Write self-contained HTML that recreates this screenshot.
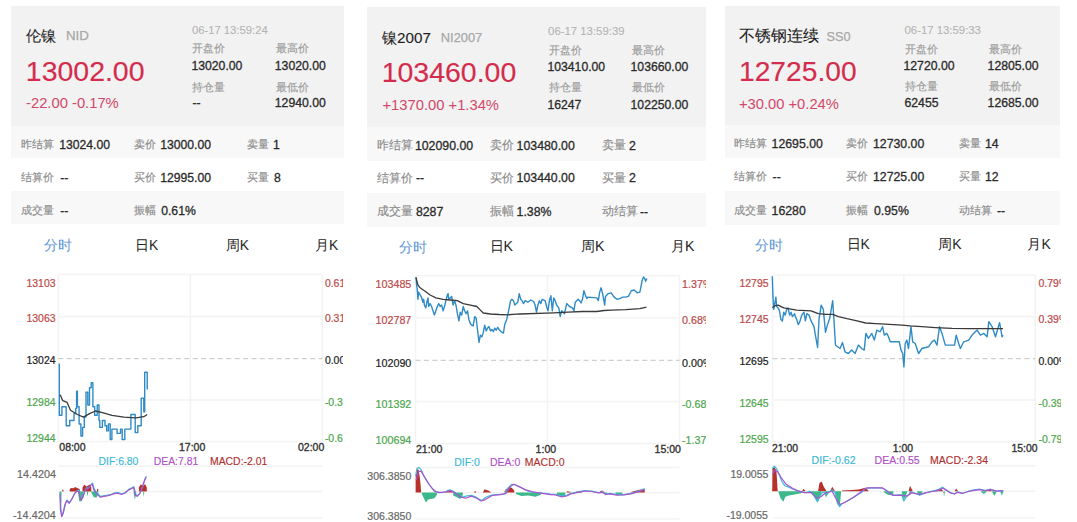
<!DOCTYPE html><html><head><meta charset="utf-8"><style>
html,body{margin:0;padding:0;background:#fff;width:1077px;height:522px;overflow:hidden;position:relative;font-family:"Liberation Sans",sans-serif}
#wrap{position:absolute;left:0;top:0;width:1077px;height:522px}
.b{position:absolute}
.t{position:absolute;line-height:1;white-space:nowrap}
svg{position:absolute;left:0;top:0}
</style></head><body><div id="wrap">
<div class="b" style="left:11px;top:6px;width:332.5px;height:119.5px;background:#f2f2f2"></div>
<div class="b" style="left:11px;top:125.5px;width:333px;height:32.900000000000006px;background:#f8f8f8"></div>
<div class="b" style="left:11px;top:191.2px;width:333px;height:33.30000000000001px;background:#f8f8f8"></div>
<div class="b" style="left:367px;top:7px;width:338.5px;height:119.5px;background:#f2f2f2"></div>
<div class="b" style="left:367px;top:126.5px;width:338.5px;height:34.0px;background:#f8f8f8"></div>
<div class="b" style="left:367px;top:192.5px;width:338.5px;height:34.5px;background:#f8f8f8"></div>
<div class="b" style="left:725px;top:6px;width:334.5px;height:118.8px;background:#f2f2f2"></div>
<div class="b" style="left:725px;top:124.8px;width:334.5px;height:33.2px;background:#f8f8f8"></div>
<div class="b" style="left:725px;top:191.3px;width:334.5px;height:33.29999999999998px;background:#f8f8f8"></div>
<svg width="1077" height="522" viewBox="0 0 1077 522"><line x1="58.3" y1="274.6" x2="322.4" y2="274.6" stroke="#f3f3f3" stroke-width="1.5"/><line x1="58.3" y1="316.4" x2="322.4" y2="316.4" stroke="#f3f3f3" stroke-width="1.5"/><line x1="58.3" y1="399.9" x2="322.4" y2="399.9" stroke="#f3f3f3" stroke-width="1.5"/><line x1="58.3" y1="441.6" x2="322.4" y2="441.6" stroke="#f3f3f3" stroke-width="1.5"/><line x1="58.3" y1="274.6" x2="58.3" y2="441.6" stroke="#f3f3f3" stroke-width="1.5"/><line x1="322.4" y1="274.6" x2="322.4" y2="441.6" stroke="#f3f3f3" stroke-width="1.5"/><line x1="190.35" y1="274.6" x2="190.35" y2="441.6" stroke="#f3f3f3" stroke-width="1.5"/><line x1="58.3" y1="358.7" x2="322.4" y2="358.7" stroke="#c4c4c4" stroke-width="1" stroke-dasharray="5,3.4"/><line x1="58.3" y1="466.3" x2="322.4" y2="466.3" stroke="#f3f3f3" stroke-width="1.5"/><line x1="58.3" y1="491.4" x2="322.4" y2="491.4" stroke="#f3f3f3" stroke-width="1.5"/><line x1="58.3" y1="518" x2="322.4" y2="518" stroke="#f3f3f3" stroke-width="1.5"/><line x1="415.5" y1="275.8" x2="679.5" y2="275.8" stroke="#f3f3f3" stroke-width="1.5"/><line x1="415.5" y1="317.7" x2="679.5" y2="317.7" stroke="#f3f3f3" stroke-width="1.5"/><line x1="415.5" y1="401.5" x2="679.5" y2="401.5" stroke="#f3f3f3" stroke-width="1.5"/><line x1="415.5" y1="443.4" x2="679.5" y2="443.4" stroke="#f3f3f3" stroke-width="1.5"/><line x1="415.5" y1="275.8" x2="415.5" y2="443.4" stroke="#f3f3f3" stroke-width="1.5"/><line x1="679.5" y1="275.8" x2="679.5" y2="443.4" stroke="#f3f3f3" stroke-width="1.5"/><line x1="547.5" y1="275.8" x2="547.5" y2="443.4" stroke="#f3f3f3" stroke-width="1.5"/><line x1="415.5" y1="360.3" x2="679.5" y2="360.3" stroke="#c4c4c4" stroke-width="1" stroke-dasharray="5,3.4"/><line x1="415.5" y1="467.4" x2="679.5" y2="467.4" stroke="#f3f3f3" stroke-width="1.5"/><line x1="415.5" y1="492.8" x2="679.5" y2="492.8" stroke="#f3f3f3" stroke-width="1.5"/><line x1="415.5" y1="519" x2="679.5" y2="519" stroke="#f3f3f3" stroke-width="1.5"/><line x1="772.5" y1="274.9" x2="1035.2" y2="274.9" stroke="#f3f3f3" stroke-width="1.5"/><line x1="772.5" y1="316.6" x2="1035.2" y2="316.6" stroke="#f3f3f3" stroke-width="1.5"/><line x1="772.5" y1="400.1" x2="1035.2" y2="400.1" stroke="#f3f3f3" stroke-width="1.5"/><line x1="772.5" y1="441.8" x2="1035.2" y2="441.8" stroke="#f3f3f3" stroke-width="1.5"/><line x1="772.5" y1="274.9" x2="772.5" y2="441.8" stroke="#f3f3f3" stroke-width="1.5"/><line x1="1035.2" y1="274.9" x2="1035.2" y2="441.8" stroke="#f3f3f3" stroke-width="1.5"/><line x1="903.85" y1="274.9" x2="903.85" y2="441.8" stroke="#f3f3f3" stroke-width="1.5"/><line x1="772.5" y1="358.7" x2="1035.2" y2="358.7" stroke="#c4c4c4" stroke-width="1" stroke-dasharray="5,3.4"/><line x1="772.5" y1="465.8" x2="1035.2" y2="465.8" stroke="#f3f3f3" stroke-width="1.5"/><line x1="772.5" y1="491.2" x2="1035.2" y2="491.2" stroke="#f3f3f3" stroke-width="1.5"/><line x1="772.5" y1="517.8" x2="1035.2" y2="517.8" stroke="#f3f3f3" stroke-width="1.5"/><polyline points="59.3,363.6 59.3,363.6 59.3,415.3 61.9,415.3 61.9,415.3 61.9,415.3 61.9,406.7 66.2,406.7 66.2,406.7 66.2,406.7 66.2,425.7 69.7,425.7 69.7,425.7 69.7,425.7 69.7,420.5 72.2,420.5 72.2,420.5 74.0,420.5 74.0,413.6 75.7,413.6 75.7,408.4 76.6,408.4 76.6,391.2 77.4,391.2 77.4,406.7 79.1,406.7 79.1,424.0 80.9,424.0 80.9,436.0 82.6,436.0 82.6,427.4 84.3,427.4 84.3,417.1 86.0,417.1 86.0,392.1 87.8,392.1 87.8,405.0 89.5,405.0 89.5,387.8 91.2,387.8 91.2,382.6 92.9,382.6 92.9,406.7 94.7,406.7 94.7,415.3 97.2,415.3 97.2,405.0 99.0,405.0 99.0,420.5 99.8,420.5 99.8,427.4 102.4,427.4 102.4,420.5 105.0,420.5 105.0,425.7 106.7,425.7 106.7,430.9 108.4,430.9 108.4,424.0 110.2,424.0 110.2,439.5 111.9,439.5 111.9,429.1 117.1,429.1 117.1,433.4 120.5,433.4 120.5,429.1 122.2,429.1 122.2,439.5 124.8,439.5 124.8,429.1 130.9,429.1 130.9,414.5 134.3,414.5 134.3,414.5 135.2,414.5 135.2,432.6 137.8,432.6 137.8,425.7 141.2,425.7 141.2,398.1 143.8,398.1 143.8,411.9 144.7,411.9 144.7,372.2 147.2,372.2 147.2,389.5" fill="none" stroke="#2f8bc6" stroke-width="1.4" stroke-linejoin="round"/><polyline points="60.2,394.7 62.8,400.7 67.1,402.4 70.5,410.2 77.4,414.5 83.4,417.1 89.5,413.6 95.5,411.0 103.3,412.8 111.9,415.3 124.0,417.1 136.0,417.9 143.8,416.7 147.2,414.5" fill="none" stroke="#3a3a3a" stroke-width="1.3" stroke-linejoin="round"/><polyline points="416.0,277.0 416.5,283.5 417.2,289.2 417.9,299.3 418.6,292.1 420.1,295.0 421.5,297.2 422.9,302.2 423.7,299.3 424.4,305.1 425.8,307.9 427.2,300.7 428.0,297.9 428.7,306.5 430.1,303.6 431.6,306.5 433.0,310.8 434.4,315.1 435.9,310.8 437.3,306.5 438.7,303.6 440.2,306.5 441.6,305.1 443.1,310.8 444.5,306.5 445.9,300.7 447.4,295.0 448.1,293.6 448.8,299.3 450.2,297.9 451.7,296.4 453.1,305.1 454.6,300.7 456.0,305.1 457.4,313.7 458.9,320.9 460.3,312.2 461.7,315.1 463.2,306.5 464.6,310.8 466.1,313.7 467.5,310.8 468.9,319.4 470.4,323.7 471.8,325.2 473.2,325.9 474.7,316.6 476.1,318.0 477.5,329.5 479.0,342.4 480.4,335.2 481.9,336.7 483.3,332.4 484.7,325.2 486.2,330.9 487.6,328.1 489.0,326.6 490.5,330.9 491.9,329.5 493.4,331.6 494.8,328.1 496.2,330.2 497.7,327.3 499.1,329.5 502.0,332.4 503.4,333.1 504.9,323.7 506.3,320.9 507.7,315.1 509.2,307.9 510.6,300.7 512.0,299.3 513.5,300.7 514.9,305.1 516.4,303.6 517.8,302.2 519.2,293.6 520.7,299.3 522.1,300.7 523.5,303.6 525.0,300.7 527.9,302.2 530.7,300.0 533.6,301.5 535.1,305.0 536.5,312.2 537.9,305.0 539.4,300.7 540.8,303.6 542.2,299.3 545.1,300.7 546.6,306.5 548.0,310.8 549.4,300.7 550.9,295.7 552.3,310.8 553.7,297.9 555.2,300.7 556.6,305.0 558.8,307.9 560.2,316.5 561.6,310.8 563.1,312.2 564.5,313.7 566.7,303.6 568.1,305.0 569.5,306.5 572.4,307.9 573.9,310.8 575.3,302.2 578.2,299.3 579.6,300.7 581.0,302.9 582.5,299.3 583.9,290.7 585.3,295.0 586.8,298.6 588.2,297.1 596.8,297.9 598.3,300.7 599.7,292.1 601.1,287.8 602.6,293.6 604.7,305.0 605.5,296.4 608.3,293.6 611.2,292.8 614.1,297.1 617.0,299.3 619.8,298.6 622.7,297.1 625.6,297.1 628.4,296.4 631.3,290.7 634.2,290.0 637.1,292.8 639.9,292.1 642.1,280.6 643.5,277.0 645.0,279.2 645.7,281.3 646.8,278.5" fill="none" stroke="#2f8bc6" stroke-width="1.4" stroke-linejoin="round"/><polyline points="416.0,277.7 417.9,284.9 420.1,287.8 424.4,290.7 430.1,295.0 435.9,297.9 443.1,299.3 450.2,300.0 457.4,300.7 463.2,303.6 470.4,305.1 476.8,306.5 480.4,310.1 483.3,313.0 490.5,314.0 499.1,314.5 507.7,314.8 516.4,314.1 519.2,314.0 553.7,312.9 568.1,312.2 582.5,311.5 596.8,311.5 604.0,310.5 611.2,310.1 625.6,309.6 639.9,308.6 646.4,307.2" fill="none" stroke="#3a3a3a" stroke-width="1.3" stroke-linejoin="round"/><polyline points="772.3,276.3 773.0,297.9 773.7,309.4 774.5,305.1 775.9,297.2 776.6,306.5 778.1,307.9 779.5,310.8 780.9,319.4 782.4,320.9 783.8,312.2 785.2,315.1 786.7,309.4 788.1,307.9 789.6,315.1 791.0,312.2 792.4,316.6 794.6,313.7 795.3,316.6 796.7,319.4 798.2,324.5 799.6,322.3 801.8,315.1 803.9,312.2 805.4,320.9 806.8,313.7 809.0,315.1 811.1,320.9 814.0,326.6 815.4,335.2 817.6,347.5 819.0,319.4 821.2,305.1 823.3,309.4 825.5,332.4 826.9,326.6 829.8,318.0 832.7,300.7 834.1,322.3 835.5,345.3 840.0,348.5 842.5,342.6 845.0,351.8 848.4,353.5 851.7,350.1 855.1,353.5 858.4,345.1 861.7,348.5 864.2,350.1 865.9,333.4 868.4,338.4 871.8,333.4 874.3,340.1 876.8,330.1 880.1,331.8 882.6,326.7 884.3,335.1 886.8,333.4 888.5,336.8 890.2,341.8 899.3,341.8 901.0,350.1 902.7,353.5 903.9,366.9 905.2,343.5 906.9,340.1 908.5,348.5 911.0,326.7 912.7,341.8 915.2,343.5 918.6,353.5 921.9,348.5 928.6,346.8 931.9,341.8 934.4,340.1 937.0,345.1 939.5,326.7 942.0,333.4 945.3,345.1 954.5,345.1 956.2,335.1 958.7,343.5 960.4,348.5 963.7,341.8 968.7,340.1 972.1,335.1 977.1,330.1 980.4,335.1 983.8,333.4 987.1,336.8 988.8,321.7 992.1,326.7 995.5,336.8 999.6,322.6 1002.1,336.8 1003.0,335.1" fill="none" stroke="#2f8bc6" stroke-width="1.4" stroke-linejoin="round"/><polyline points="772.3,307.9 774.5,305.8 778.1,305.1 783.8,307.9 796.7,310.1 811.1,310.8 818.3,313.7 825.5,314.4 832.7,314.4 838.4,316.6 847.0,318.7 857.1,320.9 865.7,323.0 875.8,323.7 885.1,324.2 901.9,325.1 910.2,325.9 921.9,326.7 935.3,327.6 952.0,328.4 968.7,328.7 1003.0,328.7" fill="none" stroke="#3a3a3a" stroke-width="1.3" stroke-linejoin="round"/><polygon points="62.2,491.4 62.2,490.1 62.9,489.2 63.5,490.6 63.5,491.4" fill="#b8302a"/><polygon points="69.7,491.4 69.7,489.2 71.0,487.9 73.6,488.3 75.0,487.0 77.2,487.9 79.8,489.2 79.8,491.4" fill="#b8302a"/><polygon points="82.5,491.4 82.5,487.5 84.2,484.8 86.9,486.6 89.5,484.4 91.3,487.5 91.3,491.4" fill="#b8302a"/><polygon points="97.0,491.4 97.0,489.2 97.6,488.8 98.3,489.2 98.3,491.4" fill="#b8302a"/><polygon points="138.9,491.4 138.9,487.5 140.7,484.4 143.3,485.7 145.1,483.9 146.8,487.5 146.8,491.4" fill="#b8302a"/><polygon points="59.5,491.4 59.5,492.8 60.0,502.5 61.3,502.5 61.5,492.8 61.5,491.4" fill="#3cb88a"/><polygon points="78.0,491.4 78.0,492.8 79.4,501.6 82.0,501.1 83.3,493.6 83.3,491.4" fill="#3cb88a"/><polygon points="86.9,491.4 86.9,492.8 87.6,496.3 88.2,492.8 88.2,491.4" fill="#3cb88a"/><polygon points="91.3,491.4 91.3,492.8 93.9,497.2 96.6,497.6 98.3,493.6 98.3,491.4" fill="#3cb88a"/><polygon points="133.6,491.4 133.6,492.8 134.9,499.8 136.2,493.6 136.2,491.4" fill="#3cb88a"/><polygon points="143.3,491.4 143.3,492.8 143.7,497.2 144.2,492.8 144.2,491.4" fill="#3cb88a"/><polyline points="60.4,492.9 60.9,508.8 62.2,515.9 63.5,512.3 65.3,504.4 67.0,500.0 69.7,502.6 72.3,498.2 75.0,492.9 77.6,490.3 79.4,490.7 81.1,499.1 82.9,497.3 84.7,492.0 86.4,487.6 88.2,488.5 90.8,485.0 92.6,483.2 94.4,489.4 97.0,492.9 100.5,496.5 104.1,495.6 107.6,495.1 111.1,494.3 114.6,492.9 118.2,492.5 121.7,493.8 125.2,492.5 128.8,489.4 134.0,486.8 135.8,494.7 137.6,495.6 140.2,492.9 142.9,485.9 144.6,480.6 146.4,476.2" fill="none" stroke="#40bcd8" stroke-width="1.2" stroke-linejoin="round"/><polyline points="60.0,493.6 60.4,509.5 61.7,516.6 63.1,513.0 64.8,505.1 66.6,500.7 69.2,503.3 71.9,498.9 74.5,493.6 77.2,491.0 78.9,491.4 80.7,499.8 82.5,498.0 84.2,492.8 86.0,488.3 87.7,489.2 90.4,485.7 92.2,483.9 93.9,490.1 96.6,493.6 100.1,497.2 103.6,496.3 107.1,495.8 110.7,495.0 114.2,493.6 117.7,493.2 121.3,494.5 124.8,493.2 128.3,490.1 133.6,487.5 135.4,495.4 137.1,496.3 139.8,493.6 142.4,486.6 144.2,481.3 145.9,476.9" fill="none" stroke="#a855d0" stroke-width="1.2" stroke-linejoin="round"/><polygon points="415.6,492.6 415.6,475.9 417.0,469.0 418.6,469.7 420.0,478.7 421.1,491.2 421.1,492.6" fill="#b8302a"/><polygon points="445.5,492.6 445.5,491.9 446.9,490.6 450.4,489.9 453.2,491.9 453.2,492.6" fill="#b8302a"/><polygon points="474.1,492.6 474.1,491.9 475.2,491.0 476.2,491.9 476.2,492.6" fill="#b8302a"/><polygon points="483.1,492.6 483.1,491.9 484.5,489.2 488.0,490.6 490.8,491.9 490.8,492.6" fill="#b8302a"/><polygon points="504.7,492.6 504.7,491.2 506.1,489.2 508.9,487.1 511.7,487.8 513.8,489.9 514.5,491.9 514.5,492.6" fill="#b8302a"/><polygon points="421.8,492.6 421.8,494.0 423.9,498.2 426.0,502.4 428.1,499.6 430.9,498.9 434.4,498.2 436.5,495.4 437.2,493.3 437.2,492.6" fill="#3cb88a"/><polygon points="453.2,492.6 453.2,495.4 457.4,497.5 460.1,498.9 462.2,496.8 462.9,494.0 462.9,492.6" fill="#3cb88a"/><polygon points="515.8,492.6 515.8,494.0 521.4,496.1 528.4,495.4 535.3,496.8 540.9,494.7 540.9,492.6" fill="#3cb88a"/><polygon points="566.7,492.6 566.7,491.2 568.8,491.5 570.9,491.9 570.9,492.6" fill="#b8302a"/><polygon points="576.5,492.6 576.5,491.5 579.2,491.2 582.0,491.9 582.0,492.6" fill="#b8302a"/><polygon points="600.1,492.6 600.1,491.2 602.2,490.6 604.3,491.9 604.3,492.6" fill="#b8302a"/><polygon points="630.8,492.6 630.8,491.9 636.4,490.6 641.9,489.2 644.7,489.9 644.7,492.6" fill="#b8302a"/><polygon points="557.0,492.6 557.0,494.7 561.1,496.8 565.3,495.4 565.3,492.6" fill="#3cb88a"/><polygon points="604.3,492.6 604.3,494.0 605.7,495.4 607.1,494.0 607.1,492.6" fill="#3cb88a"/><polygon points="615.5,492.6 615.5,494.0 619.6,494.7 622.4,494.0 622.4,492.6" fill="#3cb88a"/><polyline points="415.6,475.9 417.0,468.3 419.1,467.6 421.1,469.7 423.9,475.9 428.1,482.9 432.3,488.5 436.5,491.9 442.0,492.6 446.2,491.5 449.7,489.9 453.2,491.2 457.4,494.7 461.5,497.5 465.7,496.1 471.3,495.4 475.5,496.8 479.6,499.6 482.4,500.3 485.2,497.5 490.8,495.4 496.4,494.7 504.7,494.0 507.5,488.5 511.7,484.3 515.8,485.0 521.4,487.8 528.4,491.2 535.3,492.6 543.7,493.3 549.3,493.8 550.0,494.0 555.6,494.3 561.1,496.1 566.7,495.4 570.9,493.3 577.9,491.9 584.8,490.6 591.8,491.2 598.7,492.6 602.9,491.9 605.7,494.0 609.9,493.3 616.9,494.7 623.8,494.7 630.8,493.3 636.4,491.9 641.9,489.9 644.7,488.5" fill="none" stroke="#40bcd8" stroke-width="1.2" stroke-linejoin="round"/><polyline points="416.3,480.1 418.4,471.7 421.1,471.1 424.6,477.3 429.5,485.0 434.4,491.2 439.2,492.6 446.2,491.9 450.4,490.6 454.6,492.6 460.1,496.8 465.7,498.2 471.3,496.1 476.9,498.2 481.0,501.0 485.2,499.6 492.2,495.4 500.5,494.7 506.1,493.3 510.3,486.4 513.8,484.3 518.6,486.4 525.6,489.9 532.6,491.9 542.3,493.3 549.3,494.3 550.0,494.7 555.6,494.9 561.1,496.8 566.7,496.0 570.9,494.0 577.9,492.4 584.8,491.0 591.8,491.5 598.7,492.9 602.9,492.4 605.7,494.3 609.9,493.8 616.9,495.1 623.8,494.9 630.8,493.8 636.4,492.4 641.9,490.6 644.7,489.2" fill="none" stroke="#a855d0" stroke-width="1.2" stroke-linejoin="round"/><polygon points="772.2,491.2 772.2,491.2 772.5,467.6 774.3,466.9 776.4,470.4 777.7,491.2 777.7,491.2" fill="#b8302a"/><polygon points="802.1,491.2 802.1,491.2 803.5,488.7 805.6,491.2 805.6,491.2" fill="#b8302a"/><polygon points="818.1,491.2 818.1,491.2 819.5,482.9 821.6,481.5 823.7,486.4 826.5,491.2 826.5,491.2" fill="#b8302a"/><polygon points="830.0,491.2 830.0,491.2 832.3,486.8 834.9,491.2 834.9,491.2" fill="#b8302a"/><polygon points="841.8,491.2 841.8,490.6 851.6,489.9 858.5,489.6 865.5,487.8 868.3,490.6 868.3,491.2" fill="#b8302a"/><polygon points="778.4,491.2 778.4,491.9 780.5,498.2 783.3,501.7 785.4,496.8 788.9,495.4 793.1,494.7 797.2,494.0 801.4,493.3 802.8,491.5 802.8,491.2" fill="#3cb88a"/><polygon points="809.8,491.2 809.8,491.9 814.0,496.8 817.4,502.4 820.2,496.8 821.6,491.9 821.6,491.2" fill="#3cb88a"/><polygon points="824.4,491.2 824.4,491.9 825.8,497.5 829.3,491.9 829.3,491.2" fill="#3cb88a"/><polygon points="834.9,491.2 834.9,491.9 836.9,503.8 839.7,507.3 841.1,491.9 841.1,491.2" fill="#3cb88a"/><polygon points="883.6,491.2 883.6,491.9 887.8,494.7 893.3,495.4 893.3,491.2" fill="#3cb88a"/><polygon points="901.7,491.2 901.7,491.9 903.8,500.3 907.3,491.9 907.3,491.2" fill="#3cb88a"/><polygon points="908.6,491.2 908.6,491.2 910.0,485.7 912.8,491.2 912.8,491.2" fill="#b8302a"/><polygon points="932.3,491.2 932.3,491.2 937.9,489.2 940.6,488.2 943.4,491.2 943.4,491.2" fill="#b8302a"/><polygon points="954.6,491.2 954.6,491.2 956.2,488.5 958.1,491.2 958.1,491.2" fill="#b8302a"/><polygon points="986.6,491.2 986.6,491.2 989.4,489.2 992.2,491.2 992.2,491.2" fill="#b8302a"/><polygon points="999.1,491.2 999.1,491.2 1000.5,489.9 1001.9,491.2 1001.9,491.2" fill="#b8302a"/><polygon points="917.0,491.2 917.0,491.9 919.7,496.1 922.5,491.9 922.5,491.2" fill="#3cb88a"/><polygon points="943.4,491.2 943.4,491.9 944.1,496.8 944.8,491.9 944.8,491.2" fill="#3cb88a"/><polygon points="981.0,491.2 981.0,491.9 983.8,494.0 986.6,491.9 986.6,491.2" fill="#3cb88a"/><polygon points="992.2,491.2 992.2,491.9 994.3,496.1 996.4,491.9 996.4,491.2" fill="#3cb88a"/><polygon points="1000.5,491.2 1000.5,491.9 1001.9,495.4 1003.3,491.9 1003.3,491.2" fill="#3cb88a"/><polyline points="772.2,469.0 774.3,466.2 776.4,468.3 779.1,474.5 781.9,481.5 784.7,485.7 788.9,487.1 793.1,489.2 797.2,490.6 801.4,491.9 805.6,492.6 809.8,491.2 814.0,495.4 817.4,501.7 820.2,495.4 823.0,491.9 826.5,494.0 829.3,491.9 832.1,489.9 834.9,492.6 837.6,502.4 839.7,506.6 841.8,503.8 847.4,501.0 854.4,496.8 861.3,492.6 865.5,488.5 871.1,487.8 879.4,487.8 883.6,488.5 887.8,491.9 893.3,495.4 901.7,494.7 903.8,501.0 907.3,495.4 911.5,491.9 910.0,491.9 914.2,492.9 919.7,495.1 925.3,492.9 932.3,491.2 937.9,489.9 942.7,487.1 946.2,489.9 950.4,492.6 954.6,494.0 957.4,491.9 962.9,493.3 968.5,491.2 974.1,489.9 979.6,489.2 985.2,490.6 990.8,489.2 996.4,491.2 1001.9,490.6 1003.3,491.2" fill="none" stroke="#40bcd8" stroke-width="1.2" stroke-linejoin="round"/><polyline points="772.5,474.5 774.3,470.4 777.7,471.7 781.9,478.7 786.1,484.3 791.7,487.8 797.2,490.6 804.2,492.6 811.2,492.6 816.7,498.2 820.9,496.8 825.1,493.3 832.1,491.2 837.6,501.7 840.4,504.5 846.0,501.7 854.4,496.8 862.7,490.6 866.9,487.8 882.2,487.8 886.4,490.6 893.3,495.4 901.7,495.4 907.3,496.1 911.5,492.9 910.0,492.4 914.2,493.3 919.7,494.3 925.3,492.9 932.3,491.5 937.9,490.6 942.7,488.2 946.2,490.1 950.4,492.9 954.6,493.8 957.4,492.4 962.9,493.3 968.5,491.5 974.1,490.3 979.6,489.6 985.2,490.6 990.8,489.6 996.4,491.2 1001.9,490.7 1003.3,491.2" fill="none" stroke="#a855d0" stroke-width="1.2" stroke-linejoin="round"/></svg>
<span class="t" style="left:25.7px;top:27.5px;font-size:15.38px;color:#1e1e1e;-webkit-text-stroke:0.1px #1e1e1e">伦镍</span>
<span class="t" style="left:65.9px;top:29.4px;font-size:13.31px;color:#a8a8a8;-webkit-text-stroke:0.25px #a8a8a8">NID</span>
<span class="t" style="left:25.8px;top:57.1px;font-size:28.48px;color:#d42c4c;-webkit-text-stroke:0.15px #d42c4c">13002.00</span>
<span class="t" style="left:26.0px;top:96.25px;font-size:14.78px;color:#d3486a">-22.00 -0.17%</span>
<span class="t" style="left:191.9px;top:25.25px;font-size:11.28px;color:#b4b4b4;-webkit-text-stroke:0.1px #b4b4b4">06-17 13:59:24</span>
<span class="t" style="left:192.4px;top:43.45px;font-size:11.09px;color:#9c9c9c;-webkit-text-stroke:0.15px #9c9c9c">开盘价</span>
<span class="t" style="left:191.4px;top:59.6px;font-size:12.24px;color:#2a2a2a;-webkit-text-stroke:0.3px #2a2a2a">13020.00</span>
<span class="t" style="left:275.8px;top:43.45px;font-size:11.09px;color:#9c9c9c;-webkit-text-stroke:0.15px #9c9c9c">最高价</span>
<span class="t" style="left:274.8px;top:59.6px;font-size:12.24px;color:#2a2a2a;-webkit-text-stroke:0.3px #2a2a2a">13020.00</span>
<span class="t" style="left:192.4px;top:81.65px;font-size:11.09px;color:#9c9c9c;-webkit-text-stroke:0.15px #9c9c9c">持仓量</span>
<span class="t" style="left:192.4px;top:97.2px;font-size:12.24px;color:#2a2a2a;-webkit-text-stroke:0.3px #2a2a2a">--</span>
<span class="t" style="left:275.8px;top:81.65px;font-size:11.09px;color:#9c9c9c;-webkit-text-stroke:0.15px #9c9c9c">最低价</span>
<span class="t" style="left:274.8px;top:97.2px;font-size:12.24px;color:#2a2a2a;-webkit-text-stroke:0.3px #2a2a2a">12940.00</span>
<span class="t" style="left:21.0px;top:138.55px;font-size:11.48px;color:#8c8c8c;-webkit-text-stroke:0.15px #8c8c8c">昨结算</span>
<span class="t" style="left:59.2px;top:138.55px;font-size:12.19px;color:#2a2a2a;-webkit-text-stroke:0.3px #2a2a2a">13024.00</span>
<span class="t" style="left:133.8px;top:138.55px;font-size:11.48px;color:#8c8c8c;-webkit-text-stroke:0.15px #8c8c8c">卖价</span>
<span class="t" style="left:160.2px;top:138.55px;font-size:12.19px;color:#2a2a2a;-webkit-text-stroke:0.3px #2a2a2a">13000.00</span>
<span class="t" style="left:246.5px;top:138.55px;font-size:11.48px;color:#8c8c8c;-webkit-text-stroke:0.15px #8c8c8c">卖量</span>
<span class="t" style="left:273.0px;top:138.55px;font-size:12.19px;color:#2a2a2a;-webkit-text-stroke:0.3px #2a2a2a">1</span>
<span class="t" style="left:21.0px;top:171.95px;font-size:11.48px;color:#8c8c8c;-webkit-text-stroke:0.15px #8c8c8c">结算价</span>
<span class="t" style="left:60.2px;top:171.95px;font-size:12.19px;color:#2a2a2a;-webkit-text-stroke:0.3px #2a2a2a">--</span>
<span class="t" style="left:133.8px;top:171.95px;font-size:11.48px;color:#8c8c8c;-webkit-text-stroke:0.15px #8c8c8c">买价</span>
<span class="t" style="left:160.2px;top:171.95px;font-size:12.19px;color:#2a2a2a;-webkit-text-stroke:0.3px #2a2a2a">12995.00</span>
<span class="t" style="left:246.5px;top:171.95px;font-size:11.48px;color:#8c8c8c;-webkit-text-stroke:0.15px #8c8c8c">买量</span>
<span class="t" style="left:274.0px;top:171.95px;font-size:12.19px;color:#2a2a2a;-webkit-text-stroke:0.3px #2a2a2a">8</span>
<span class="t" style="left:21.0px;top:205.35px;font-size:11.48px;color:#8c8c8c;-webkit-text-stroke:0.15px #8c8c8c">成交量</span>
<span class="t" style="left:60.2px;top:205.35px;font-size:12.19px;color:#2a2a2a;-webkit-text-stroke:0.3px #2a2a2a">--</span>
<span class="t" style="left:133.8px;top:205.35px;font-size:11.48px;color:#8c8c8c;-webkit-text-stroke:0.15px #8c8c8c">振幅</span>
<span class="t" style="left:161.2px;top:205.35px;font-size:12.19px;color:#2a2a2a;-webkit-text-stroke:0.3px #2a2a2a">0.61%</span>
<span class="t" style="left:43.5px;top:239.45px;font-size:13.82px;color:#5b93d6">分时</span>
<span class="t" style="left:135.0px;top:238.75px;font-size:13.82px;color:#262626">日K</span>
<span class="t" style="left:225.8px;top:238.75px;font-size:13.82px;color:#262626">周K</span>
<span class="t" style="left:315.0px;top:238.75px;font-size:13.82px;color:#262626">月K</span>
<span class="t" style="left:26.5px;top:278.7px;font-size:10.45px;color:#bb4848;-webkit-text-stroke:0.2px #bb4848">13103</span>
<span class="t" style="left:26.5px;top:313.7px;font-size:10.45px;color:#bb4848;-webkit-text-stroke:0.2px #bb4848">13063</span>
<span class="t" style="left:26.5px;top:356.4px;font-size:10.45px;color:#222222;-webkit-text-stroke:0.2px #222222">13024</span>
<span class="t" style="left:26.5px;top:398.0px;font-size:10.45px;color:#4da64d;-webkit-text-stroke:0.2px #4da64d">12984</span>
<span class="t" style="left:26.5px;top:434.2px;font-size:10.45px;color:#4da64d;-webkit-text-stroke:0.2px #4da64d">12944</span>
<div class="b" style="left:11px;top:0;width:332px;height:522px;overflow:hidden"><span class="t" style="left:313.90px;top:278.7px;font-size:10.45px;color:#bb4848;-webkit-text-stroke:0.2px #bb4848">0.61%</span></div>
<div class="b" style="left:11px;top:0;width:332px;height:522px;overflow:hidden"><span class="t" style="left:313.90px;top:313.7px;font-size:10.45px;color:#bb4848;-webkit-text-stroke:0.2px #bb4848">0.31%</span></div>
<div class="b" style="left:11px;top:0;width:332px;height:522px;overflow:hidden"><span class="t" style="left:313.90px;top:356.4px;font-size:10.45px;color:#222222;-webkit-text-stroke:0.2px #222222">0.00%</span></div>
<div class="b" style="left:11px;top:0;width:332px;height:522px;overflow:hidden"><span class="t" style="left:313.90px;top:398.0px;font-size:10.45px;color:#4da64d;-webkit-text-stroke:0.2px #4da64d">-0.31%</span></div>
<div class="b" style="left:11px;top:0;width:332px;height:522px;overflow:hidden"><span class="t" style="left:313.90px;top:434.2px;font-size:10.45px;color:#4da64d;-webkit-text-stroke:0.2px #4da64d">-0.61%</span></div>
<span class="t" style="left:59.3px;top:443.0px;font-size:10.49px;color:#333333;-webkit-text-stroke:0.35px #333333">08:00</span>
<span class="t" style="left:179.0px;top:443.0px;font-size:10.49px;color:#333333;-webkit-text-stroke:0.35px #333333">17:00</span>
<span class="t" style="left:298.0px;top:443.0px;font-size:10.49px;color:#333333;-webkit-text-stroke:0.35px #333333">02:00</span>
<span class="t" style="left:98.5px;top:456.5px;font-size:10.41px;color:#3ab8d6;-webkit-text-stroke:0.15px #3ab8d6">DIF:6.80</span>
<span class="t" style="left:153.7px;top:456.5px;font-size:10.41px;color:#b050c8;-webkit-text-stroke:0.15px #b050c8">DEA:7.81</span>
<span class="t" style="left:210.0px;top:456.5px;font-size:10.41px;color:#b03030;-webkit-text-stroke:0.15px #b03030">MACD:-2.01</span>
<span class="t" style="left:17.0px;top:469.0px;font-size:10.82px;color:#686868;-webkit-text-stroke:0.2px #686868">14.4204</span>
<span class="t" style="left:13.0px;top:509.5px;font-size:10.82px;color:#686868;-webkit-text-stroke:0.2px #686868">-14.4204</span>
<span class="t" style="left:382.0px;top:29.65px;font-size:15.22px;color:#1e1e1e;-webkit-text-stroke:0.1px #1e1e1e">镍2007</span>
<span class="t" style="left:440.8px;top:32.35px;font-size:12.87px;color:#a8a8a8;-webkit-text-stroke:0.25px #a8a8a8">NI2007</span>
<span class="t" style="left:381.7px;top:58.35px;font-size:28.48px;color:#d42c4c;-webkit-text-stroke:0.15px #d42c4c">103460.00</span>
<span class="t" style="left:382.5px;top:98.05px;font-size:14.76px;color:#d3486a">+1370.00 +1.34%</span>
<span class="t" style="left:548.1px;top:26.3px;font-size:11.36px;color:#b4b4b4;-webkit-text-stroke:0.1px #b4b4b4">06-17 13:59:39</span>
<span class="t" style="left:548.5px;top:44.7px;font-size:11.16px;color:#9c9c9c;-webkit-text-stroke:0.15px #9c9c9c">开盘价</span>
<span class="t" style="left:547.5px;top:60.8px;font-size:12.19px;color:#2a2a2a;-webkit-text-stroke:0.3px #2a2a2a">103410.00</span>
<span class="t" style="left:631.6px;top:44.7px;font-size:11.16px;color:#9c9c9c;-webkit-text-stroke:0.15px #9c9c9c">最高价</span>
<span class="t" style="left:630.6px;top:60.8px;font-size:12.19px;color:#2a2a2a;-webkit-text-stroke:0.3px #2a2a2a">103660.00</span>
<span class="t" style="left:548.5px;top:82.4px;font-size:11.16px;color:#9c9c9c;-webkit-text-stroke:0.15px #9c9c9c">持仓量</span>
<span class="t" style="left:547.5px;top:98.5px;font-size:12.19px;color:#2a2a2a;-webkit-text-stroke:0.3px #2a2a2a">16247</span>
<span class="t" style="left:631.6px;top:82.4px;font-size:11.16px;color:#9c9c9c;-webkit-text-stroke:0.15px #9c9c9c">最低价</span>
<span class="t" style="left:630.6px;top:98.5px;font-size:12.19px;color:#2a2a2a;-webkit-text-stroke:0.3px #2a2a2a">102250.00</span>
<span class="t" style="left:376.9px;top:140.1px;font-size:11.55px;color:#8c8c8c;-webkit-text-stroke:0.15px #8c8c8c">昨结算</span>
<span class="t" style="left:414.9px;top:139.6px;font-size:12.32px;color:#2a2a2a;-webkit-text-stroke:0.3px #2a2a2a">102090.00</span>
<span class="t" style="left:490.0px;top:140.1px;font-size:11.55px;color:#8c8c8c;-webkit-text-stroke:0.15px #8c8c8c">卖价</span>
<span class="t" style="left:516.6px;top:139.6px;font-size:12.32px;color:#2a2a2a;-webkit-text-stroke:0.3px #2a2a2a">103480.00</span>
<span class="t" style="left:602.1px;top:140.1px;font-size:11.55px;color:#8c8c8c;-webkit-text-stroke:0.15px #8c8c8c">卖量</span>
<span class="t" style="left:629.0px;top:139.6px;font-size:12.32px;color:#2a2a2a;-webkit-text-stroke:0.3px #2a2a2a">2</span>
<span class="t" style="left:376.9px;top:172.9px;font-size:11.55px;color:#8c8c8c;-webkit-text-stroke:0.15px #8c8c8c">结算价</span>
<span class="t" style="left:415.9px;top:172.4px;font-size:12.32px;color:#2a2a2a;-webkit-text-stroke:0.3px #2a2a2a">--</span>
<span class="t" style="left:490.0px;top:172.9px;font-size:11.55px;color:#8c8c8c;-webkit-text-stroke:0.15px #8c8c8c">买价</span>
<span class="t" style="left:516.6px;top:172.4px;font-size:12.32px;color:#2a2a2a;-webkit-text-stroke:0.3px #2a2a2a">103440.00</span>
<span class="t" style="left:602.1px;top:172.9px;font-size:11.55px;color:#8c8c8c;-webkit-text-stroke:0.15px #8c8c8c">买量</span>
<span class="t" style="left:629.0px;top:172.4px;font-size:12.32px;color:#2a2a2a;-webkit-text-stroke:0.3px #2a2a2a">2</span>
<span class="t" style="left:376.9px;top:206.1px;font-size:11.55px;color:#8c8c8c;-webkit-text-stroke:0.15px #8c8c8c">成交量</span>
<span class="t" style="left:415.9px;top:205.6px;font-size:12.32px;color:#2a2a2a;-webkit-text-stroke:0.3px #2a2a2a">8287</span>
<span class="t" style="left:490.0px;top:206.1px;font-size:11.55px;color:#8c8c8c;-webkit-text-stroke:0.15px #8c8c8c">振幅</span>
<span class="t" style="left:516.6px;top:205.6px;font-size:12.32px;color:#2a2a2a;-webkit-text-stroke:0.3px #2a2a2a">1.38%</span>
<span class="t" style="left:602.1px;top:206.1px;font-size:11.55px;color:#8c8c8c;-webkit-text-stroke:0.15px #8c8c8c">动结算</span>
<span class="t" style="left:640.0px;top:205.6px;font-size:12.32px;color:#2a2a2a;-webkit-text-stroke:0.3px #2a2a2a">--</span>
<span class="t" style="left:399.0px;top:239.95px;font-size:14.18px;color:#5b93d6">分时</span>
<span class="t" style="left:489.6px;top:239.25px;font-size:14.18px;color:#262626">日K</span>
<span class="t" style="left:581.0px;top:239.25px;font-size:14.18px;color:#262626">周K</span>
<span class="t" style="left:671.0px;top:239.25px;font-size:14.18px;color:#262626">月K</span>
<span class="t" style="left:375.5px;top:279.4px;font-size:10.74px;color:#bb4848;-webkit-text-stroke:0.2px #bb4848">103485</span>
<span class="t" style="left:375.5px;top:315.3px;font-size:10.74px;color:#bb4848;-webkit-text-stroke:0.2px #bb4848">102787</span>
<span class="t" style="left:375.5px;top:357.9px;font-size:10.74px;color:#222222;-webkit-text-stroke:0.2px #222222">102090</span>
<span class="t" style="left:375.5px;top:399.0px;font-size:10.74px;color:#4da64d;-webkit-text-stroke:0.2px #4da64d">101392</span>
<span class="t" style="left:375.5px;top:434.8px;font-size:10.74px;color:#4da64d;-webkit-text-stroke:0.2px #4da64d">100694</span>
<div class="b" style="left:367px;top:0;width:339px;height:522px;overflow:hidden"><span class="t" style="left:315.00px;top:279.4px;font-size:10.74px;color:#bb4848;-webkit-text-stroke:0.2px #bb4848">1.37%</span></div>
<div class="b" style="left:367px;top:0;width:339px;height:522px;overflow:hidden"><span class="t" style="left:315.00px;top:315.3px;font-size:10.74px;color:#bb4848;-webkit-text-stroke:0.2px #bb4848">0.68%</span></div>
<div class="b" style="left:367px;top:0;width:339px;height:522px;overflow:hidden"><span class="t" style="left:315.00px;top:357.9px;font-size:10.74px;color:#222222;-webkit-text-stroke:0.2px #222222">0.00%</span></div>
<div class="b" style="left:367px;top:0;width:339px;height:522px;overflow:hidden"><span class="t" style="left:315.00px;top:399.0px;font-size:10.74px;color:#4da64d;-webkit-text-stroke:0.2px #4da64d">-0.68%</span></div>
<div class="b" style="left:367px;top:0;width:339px;height:522px;overflow:hidden"><span class="t" style="left:315.00px;top:434.8px;font-size:10.74px;color:#4da64d;-webkit-text-stroke:0.2px #4da64d">-1.37%</span></div>
<span class="t" style="left:416.0px;top:444.2px;font-size:10.54px;color:#333333;-webkit-text-stroke:0.35px #333333">21:00</span>
<span class="t" style="left:535.6px;top:444.2px;font-size:10.54px;color:#333333;-webkit-text-stroke:0.35px #333333">1:00</span>
<span class="t" style="left:654.6px;top:444.35px;font-size:10.54px;color:#333333;-webkit-text-stroke:0.35px #333333">15:00</span>
<span class="t" style="left:454.2px;top:457.0px;font-size:10.5px;color:#3ab8d6;-webkit-text-stroke:0.15px #3ab8d6">DIF:0</span>
<span class="t" style="left:490.0px;top:457.0px;font-size:10.5px;color:#b050c8;-webkit-text-stroke:0.15px #b050c8">DEA:0</span>
<span class="t" style="left:524.8px;top:457.0px;font-size:10.5px;color:#b03030;-webkit-text-stroke:0.15px #b03030">MACD:0</span>
<span class="t" style="left:367.3px;top:470.7px;font-size:10.56px;color:#686868;-webkit-text-stroke:0.2px #686868">306.3850</span>
<span class="t" style="left:367.3px;top:511.4px;font-size:10.56px;color:#686868;-webkit-text-stroke:0.2px #686868">306.3850</span>
<span class="t" style="left:739.0px;top:28.15px;font-size:15.62px;color:#1e1e1e;-webkit-text-stroke:0.1px #1e1e1e">不锈钢连续</span>
<span class="t" style="left:826.6px;top:30.95px;font-size:12.75px;color:#a8a8a8;-webkit-text-stroke:0.25px #a8a8a8">SS0</span>
<span class="t" style="left:739.0px;top:56.85px;font-size:28.21px;color:#d42c4c;-webkit-text-stroke:0.15px #d42c4c">12725.00</span>
<span class="t" style="left:739.0px;top:97.05px;font-size:14.73px;color:#d3486a">+30.00 +0.24%</span>
<span class="t" style="left:904.5px;top:25.1px;font-size:11.37px;color:#b4b4b4;-webkit-text-stroke:0.1px #b4b4b4">06-17 13:59:33</span>
<span class="t" style="left:904.5px;top:43.7px;font-size:11.16px;color:#9c9c9c;-webkit-text-stroke:0.15px #9c9c9c">开盘价</span>
<span class="t" style="left:903.5px;top:59.9px;font-size:12.24px;color:#2a2a2a;-webkit-text-stroke:0.3px #2a2a2a">12720.00</span>
<span class="t" style="left:988.6px;top:43.7px;font-size:11.16px;color:#9c9c9c;-webkit-text-stroke:0.15px #9c9c9c">最高价</span>
<span class="t" style="left:987.6px;top:59.9px;font-size:12.24px;color:#2a2a2a;-webkit-text-stroke:0.3px #2a2a2a">12805.00</span>
<span class="t" style="left:904.5px;top:80.9px;font-size:11.16px;color:#9c9c9c;-webkit-text-stroke:0.15px #9c9c9c">持仓量</span>
<span class="t" style="left:904.5px;top:97.0px;font-size:12.24px;color:#2a2a2a;-webkit-text-stroke:0.3px #2a2a2a">62455</span>
<span class="t" style="left:988.6px;top:80.9px;font-size:11.16px;color:#9c9c9c;-webkit-text-stroke:0.15px #9c9c9c">最低价</span>
<span class="t" style="left:987.6px;top:97.0px;font-size:12.24px;color:#2a2a2a;-webkit-text-stroke:0.3px #2a2a2a">12685.00</span>
<span class="t" style="left:733.6px;top:137.9px;font-size:11.41px;color:#8c8c8c;-webkit-text-stroke:0.15px #8c8c8c">昨结算</span>
<span class="t" style="left:771.6px;top:137.9px;font-size:12.29px;color:#2a2a2a;-webkit-text-stroke:0.3px #2a2a2a">12695.00</span>
<span class="t" style="left:846.4px;top:137.9px;font-size:11.41px;color:#8c8c8c;-webkit-text-stroke:0.15px #8c8c8c">卖价</span>
<span class="t" style="left:873.0px;top:137.9px;font-size:12.29px;color:#2a2a2a;-webkit-text-stroke:0.3px #2a2a2a">12730.00</span>
<span class="t" style="left:959.1px;top:137.9px;font-size:11.41px;color:#8c8c8c;-webkit-text-stroke:0.15px #8c8c8c">卖量</span>
<span class="t" style="left:985.0px;top:137.9px;font-size:12.29px;color:#2a2a2a;-webkit-text-stroke:0.3px #2a2a2a">14</span>
<span class="t" style="left:733.6px;top:171.4px;font-size:11.41px;color:#8c8c8c;-webkit-text-stroke:0.15px #8c8c8c">结算价</span>
<span class="t" style="left:772.6px;top:171.4px;font-size:12.29px;color:#2a2a2a;-webkit-text-stroke:0.3px #2a2a2a">--</span>
<span class="t" style="left:846.4px;top:171.4px;font-size:11.41px;color:#8c8c8c;-webkit-text-stroke:0.15px #8c8c8c">买价</span>
<span class="t" style="left:873.0px;top:171.4px;font-size:12.29px;color:#2a2a2a;-webkit-text-stroke:0.3px #2a2a2a">12725.00</span>
<span class="t" style="left:959.1px;top:171.4px;font-size:11.41px;color:#8c8c8c;-webkit-text-stroke:0.15px #8c8c8c">买量</span>
<span class="t" style="left:985.0px;top:171.4px;font-size:12.29px;color:#2a2a2a;-webkit-text-stroke:0.3px #2a2a2a">12</span>
<span class="t" style="left:733.6px;top:204.5px;font-size:11.41px;color:#8c8c8c;-webkit-text-stroke:0.15px #8c8c8c">成交量</span>
<span class="t" style="left:771.6px;top:204.5px;font-size:12.29px;color:#2a2a2a;-webkit-text-stroke:0.3px #2a2a2a">16280</span>
<span class="t" style="left:846.4px;top:204.5px;font-size:11.41px;color:#8c8c8c;-webkit-text-stroke:0.15px #8c8c8c">振幅</span>
<span class="t" style="left:874.0px;top:204.5px;font-size:12.29px;color:#2a2a2a;-webkit-text-stroke:0.3px #2a2a2a">0.95%</span>
<span class="t" style="left:959.1px;top:204.5px;font-size:11.41px;color:#8c8c8c;-webkit-text-stroke:0.15px #8c8c8c">动结算</span>
<span class="t" style="left:997.0px;top:204.5px;font-size:12.29px;color:#2a2a2a;-webkit-text-stroke:0.3px #2a2a2a">--</span>
<span class="t" style="left:755.4px;top:238.55px;font-size:13.94px;color:#5b93d6">分时</span>
<span class="t" style="left:846.6px;top:237.85px;font-size:13.94px;color:#262626">日K</span>
<span class="t" style="left:938.3px;top:237.85px;font-size:13.94px;color:#262626">周K</span>
<span class="t" style="left:1027.4px;top:237.85px;font-size:13.94px;color:#262626">月K</span>
<span class="t" style="left:739.4px;top:279.0px;font-size:10.49px;color:#bb4848;-webkit-text-stroke:0.2px #bb4848">12795</span>
<span class="t" style="left:739.4px;top:315.2px;font-size:10.49px;color:#bb4848;-webkit-text-stroke:0.2px #bb4848">12745</span>
<span class="t" style="left:739.4px;top:357.4px;font-size:10.49px;color:#222222;-webkit-text-stroke:0.2px #222222">12695</span>
<span class="t" style="left:739.4px;top:398.5px;font-size:10.49px;color:#4da64d;-webkit-text-stroke:0.2px #4da64d">12645</span>
<span class="t" style="left:739.4px;top:434.7px;font-size:10.49px;color:#4da64d;-webkit-text-stroke:0.2px #4da64d">12595</span>
<div class="b" style="left:725px;top:0;width:335.5px;height:522px;overflow:hidden"><span class="t" style="left:313.50px;top:279.0px;font-size:10.49px;color:#bb4848;-webkit-text-stroke:0.2px #bb4848">0.79%</span></div>
<div class="b" style="left:725px;top:0;width:335.5px;height:522px;overflow:hidden"><span class="t" style="left:313.50px;top:315.2px;font-size:10.49px;color:#bb4848;-webkit-text-stroke:0.2px #bb4848">0.39%</span></div>
<div class="b" style="left:725px;top:0;width:335.5px;height:522px;overflow:hidden"><span class="t" style="left:313.50px;top:357.4px;font-size:10.49px;color:#222222;-webkit-text-stroke:0.2px #222222">0.00%</span></div>
<div class="b" style="left:725px;top:0;width:335.5px;height:522px;overflow:hidden"><span class="t" style="left:313.50px;top:398.5px;font-size:10.49px;color:#4da64d;-webkit-text-stroke:0.2px #4da64d">-0.39%</span></div>
<div class="b" style="left:725px;top:0;width:335.5px;height:522px;overflow:hidden"><span class="t" style="left:313.50px;top:434.7px;font-size:10.49px;color:#4da64d;-webkit-text-stroke:0.2px #4da64d">-0.79%</span></div>
<span class="t" style="left:772.0px;top:443.5px;font-size:10.41px;color:#333333;-webkit-text-stroke:0.35px #333333">21:00</span>
<span class="t" style="left:892.8px;top:443.5px;font-size:10.41px;color:#333333;-webkit-text-stroke:0.35px #333333">1:00</span>
<span class="t" style="left:1011.5px;top:443.75px;font-size:10.41px;color:#333333;-webkit-text-stroke:0.35px #333333">15:00</span>
<span class="t" style="left:811.6px;top:455.0px;font-size:10.56px;color:#3ab8d6;-webkit-text-stroke:0.15px #3ab8d6">DIF:-0.62</span>
<span class="t" style="left:874.6px;top:455.0px;font-size:10.56px;color:#b050c8;-webkit-text-stroke:0.15px #b050c8">DEA:0.55</span>
<span class="t" style="left:930.0px;top:455.0px;font-size:10.56px;color:#b03030;-webkit-text-stroke:0.15px #b03030">MACD:-2.34</span>
<span class="t" style="left:730.4px;top:469.1px;font-size:10.52px;color:#686868;-webkit-text-stroke:0.2px #686868">19.0055</span>
<span class="t" style="left:726.4px;top:509.7px;font-size:10.52px;color:#686868;-webkit-text-stroke:0.2px #686868">-19.0055</span>
</div></body></html>
